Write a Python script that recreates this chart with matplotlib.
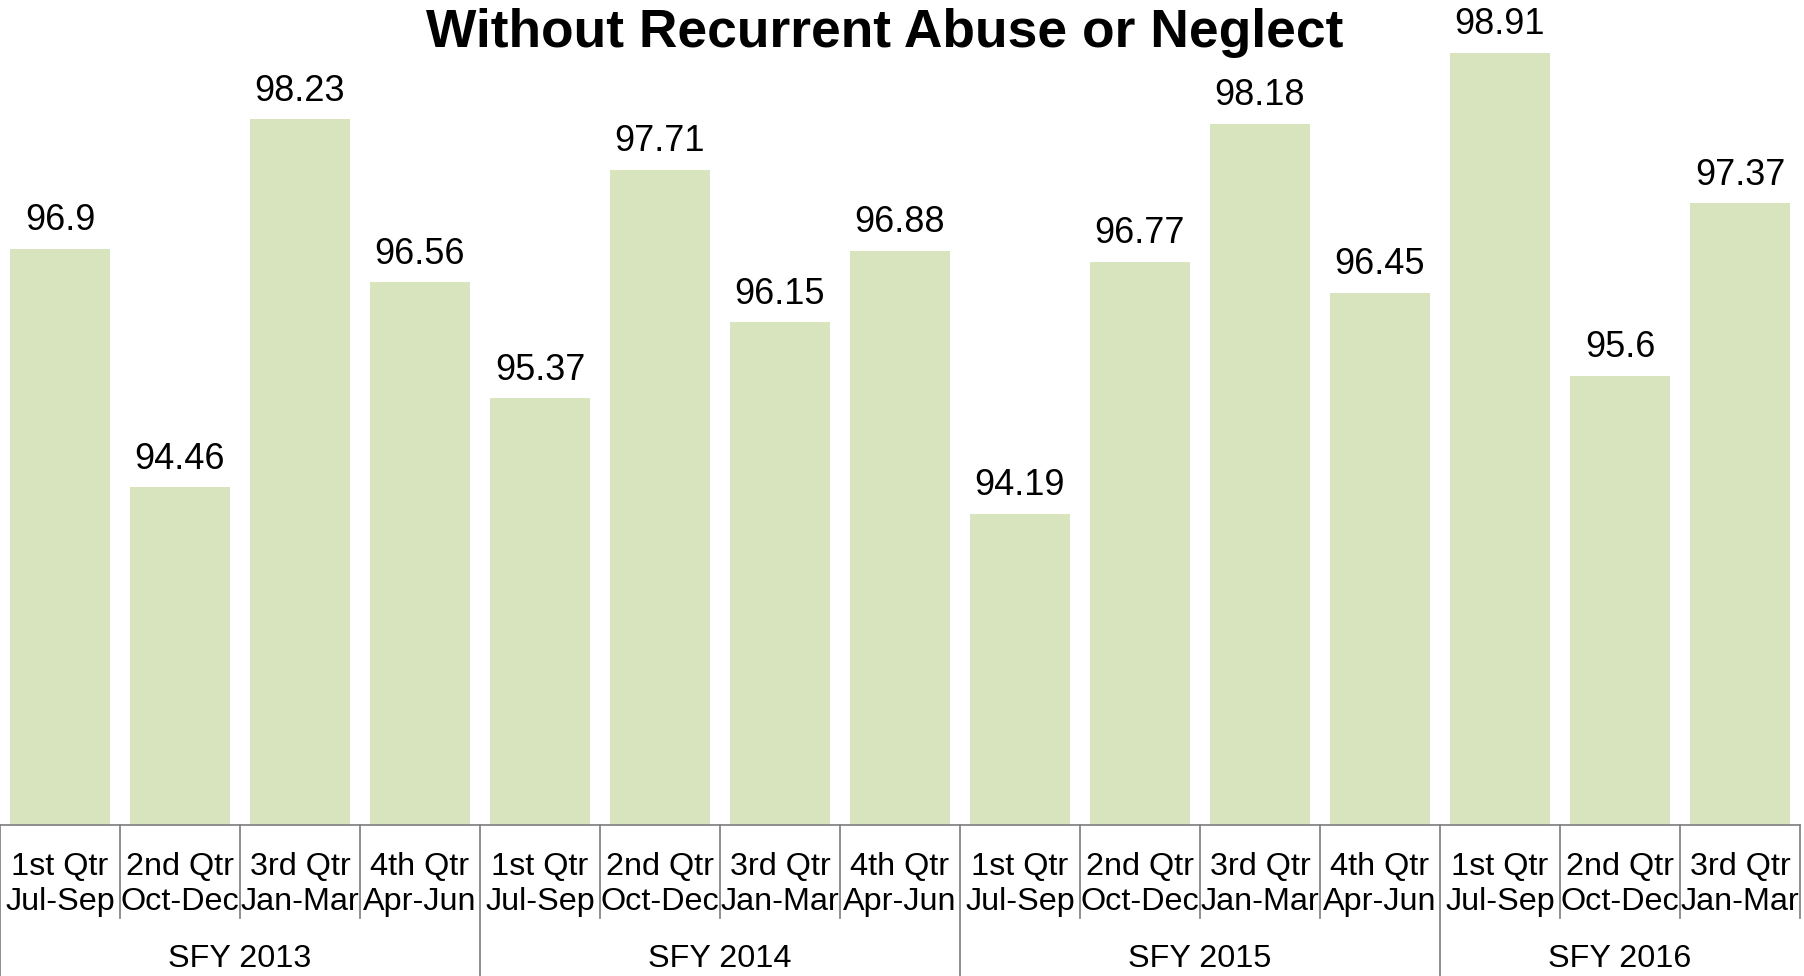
import matplotlib.pyplot as plt

# quarterly values
quarters = ['1st Qtr', '2nd Qtr', '3rd Qtr', '4th Qtr']
months = ['Jul-Sep', 'Oct-Dec', 'Jan-Mar', 'Apr-Jun']
years = ['SFY 2013', 'SFY 2014', 'SFY 2015', 'SFY 2016']
year_sizes = [4, 4, 4, 3]
values = [96.9, 94.46, 98.23, 96.56,
          95.37, 97.71, 96.15, 96.88,
          94.19, 96.77, 98.18, 96.45,
          98.91, 95.6, 97.37]

plt.rcParams['font.family'] = ['Liberation Sans', 'DejaVu Sans']

W, H = 1804, 976
fig = plt.figure(figsize=(W / 100, H / 100), dpi=100)

# axes fills the top of the figure, baseline at 825 px from top
ax_h = 825
ax = fig.add_axes([0, (H - ax_h) / H, 1800 / W, ax_h / H])
px_per_unit = 97.6

xs = list(range(len(values)))
ax.bar(xs, values, width=0.835, color='#D7E4BD')
ax.set_xlim(-0.5, len(values) - 0.5)
ax.set_ylim(91, 91 + ax_h / px_per_unit)

for x, v in zip(xs, values):
    ax.annotate('{:g}'.format(v), xy=(x, v), xytext=(0, 13.5), textcoords='offset points',
                ha='center', va='baseline', fontsize=26, clip_on=False)

# axis styling
for s in ['top', 'right', 'left']:
    ax.spines[s].set_visible(False)
ax.spines['bottom'].set_color('#868686')
ax.spines['bottom'].set_linewidth(1.3)
ax.set_xticks([])
ax.set_yticks([])

tr = ax.get_xaxis_transform()
gray = '#868686'

# category labels
for i in xs:
    q = i % 4
    ax.text(i, -50 / ax_h, quarters[q], transform=tr, ha='center', va='baseline', fontsize=23.3)
    ax.text(i, -85 / ax_h, months[q], transform=tr, ha='center', va='baseline', fontsize=23.3)

# separators
group_edges = [-0.5]
for n in year_sizes:
    group_edges.append(group_edges[-1] + n)
for i in range(len(values) + 1):
    x = i - 0.5
    if x in group_edges[:-1]:
        y_end = -(H - ax_h) / ax_h
    else:
        y_end = -(918 - ax_h) / ax_h
    ax.plot([x, x], [0, y_end], color=gray, lw=1.3, transform=tr, clip_on=False)

# group labels
for k, name in enumerate(years):
    cx = (group_edges[k] + group_edges[k + 1]) / 2
    ax.text(cx, -142 / ax_h, name, transform=tr, ha='center', va='baseline', fontsize=23.3)

fig.text(884.5 / W, (H - 47) / H, 'Without Recurrent Abuse or Neglect',
         ha='center', va='baseline', fontsize=38.4, fontweight='bold')

fig.savefig('out.png', dpi=100)
